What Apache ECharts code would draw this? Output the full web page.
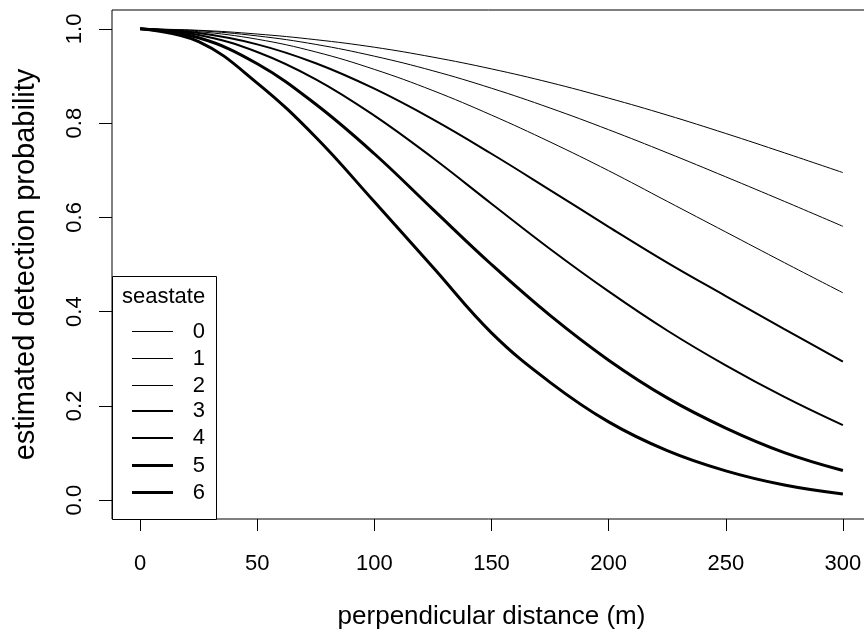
<!DOCTYPE html>
<html>
<head>
<meta charset="utf-8">
<script src="https://cdn.jsdelivr.net/npm/echarts@6/dist/echarts.min.js"></script>
<style>
html,body{margin:0;padding:0;background:#fff;}
#c{width:864px;height:631px;}
</style>
</head>
<body>
<div id="c"></div>
<script>
// perpendicular distance (m)
var distances = [0, 25, 50, 75, 100, 125, 150, 175, 200, 225, 250, 275, 300];
// estimated detection probability per seastate
var seastate0 = [1.000, 0.997, 0.989, 0.977, 0.961, 0.940, 0.915, 0.886, 0.853, 0.817, 0.778, 0.737, 0.695];
var seastate1 = [1.000, 0.996, 0.985, 0.967, 0.942, 0.911, 0.874, 0.832, 0.786, 0.737, 0.686, 0.634, 0.581];
var seastate2 = [1.000, 0.994, 0.978, 0.951, 0.914, 0.869, 0.817, 0.760, 0.699, 0.634, 0.569, 0.504, 0.440];
var seastate3 = [1.000, 0.991, 0.967, 0.927, 0.873, 0.808, 0.735, 0.658, 0.580, 0.504, 0.433, 0.363, 0.294];
var seastate4 = [1.000, 0.987, 0.951, 0.893, 0.816, 0.726, 0.629, 0.533, 0.443, 0.360, 0.286, 0.219, 0.159];
var seastate5 = [1.000, 0.981, 0.926, 0.840, 0.735, 0.617, 0.500, 0.392, 0.297, 0.217, 0.153, 0.101, 0.063];
var seastate6 = [1.000, 0.973, 0.885, 0.770, 0.633, 0.494, 0.355, 0.250, 0.166, 0.105, 0.062, 0.032, 0.013];
var seastateNames = ['0', '1', '2', '3', '4', '5', '6'];
var xTicks = [0, 50, 100, 150, 200, 250, 300];
var yTicks = [0, 0.2, 0.4, 0.6, 0.8, 1.0];

var allSeries = [seastate0, seastate1, seastate2, seastate3, seastate4, seastate5, seastate6];
var widths = [1, 1, 1, 2, 2, 3, 3];
var FONT = "'Liberation Sans', Arial, sans-serif";

var chart = echarts.init(document.getElementById('c'), null, {renderer: 'canvas'});
var series = allSeries.map(function (vals, i) {
  return {
    name: seastateNames[i],
    type: 'line',
    showSymbol: false,
    symbol: 'none',
    smooth: 0.4,
    lineStyle: {color: '#000', width: widths[i]},
    itemStyle: {color: '#000'},
    data: distances.map(function (d, j) { return [d, vals[j]]; }),
    z: 2
  };
});

// legend drawn as graphics (box, title, one line + label per seastate)
var legendX = 112, legendTop = 276, legendW = 104, legendH = 243;
var rowTop = 331, rowGap = 26.8;
var graphics = [
  {type: 'rect', left: legendX, top: legendTop, z: 5, silent: true,
    shape: {width: legendW, height: legendH},
    style: {fill: '#fff', stroke: '#000', lineWidth: 1}},
  {type: 'text', x: 122, y: 297, z: 6, silent: true,
    style: {text: 'seastate', font: '22px ' + FONT, fill: '#000', verticalAlign: 'middle', align: 'left'}}
];
seastateNames.forEach(function (n, i) {
  var cy = Math.round(rowTop + i * rowGap) + (widths[i] % 2 ? 0.5 : 0);
  graphics.push({type: 'line', z: 6, silent: true,
    shape: {x1: 132, y1: cy, x2: 173, y2: cy},
    style: {stroke: '#000', lineWidth: widths[i]}});
  graphics.push({type: 'text', x: 205, y: cy, z: 6, silent: true,
    style: {text: n, font: '22px ' + FONT, fill: '#000', align: 'right', verticalAlign: 'middle'}});
});

chart.setOption({
  animation: false,
  backgroundColor: '#fff',
  grid: {left: 112, top: 10, width: 759, height: 509, show: true, borderColor: '#000', borderWidth: 1,
    containLabel: false, outerBoundsMode: 'none'},
  xAxis: {
    type: 'value', min: -12, max: 312,
    name: 'perpendicular distance (m)', nameLocation: 'middle', nameGap: 85,
    nameTextStyle: {fontFamily: FONT, fontSize: 26, color: '#000', verticalAlign: 'top'},
    axisLine: {show: false, onZero: false},
    splitLine: {show: false},
    axisTick: {show: true, inside: false, length: 12, lineStyle: {color: '#000', width: 1}, customValues: xTicks},
    axisLabel: {show: true, margin: 34, fontFamily: FONT, fontSize: 22, color: '#000', customValues: xTicks}
  },
  yAxis: {
    type: 'value', min: -0.04, max: 1.04,
    name: 'estimated detection probability', nameLocation: 'middle', nameGap: 72, nameRotate: 90,
    nameTextStyle: {fontFamily: FONT, fontSize: 29, color: '#000'},
    axisLine: {show: false, onZero: false},
    splitLine: {show: false},
    axisTick: {show: true, inside: false, length: 13, lineStyle: {color: '#000', width: 1}, customValues: yTicks},
    axisLabel: {show: true, rotate: 90, margin: 26, fontFamily: FONT, fontSize: 22, color: '#000',
      customValues: yTicks, formatter: function (v) { return v.toFixed(1); }}
  },
  graphic: graphics,
  series: series
});
</script>
</body>
</html>
